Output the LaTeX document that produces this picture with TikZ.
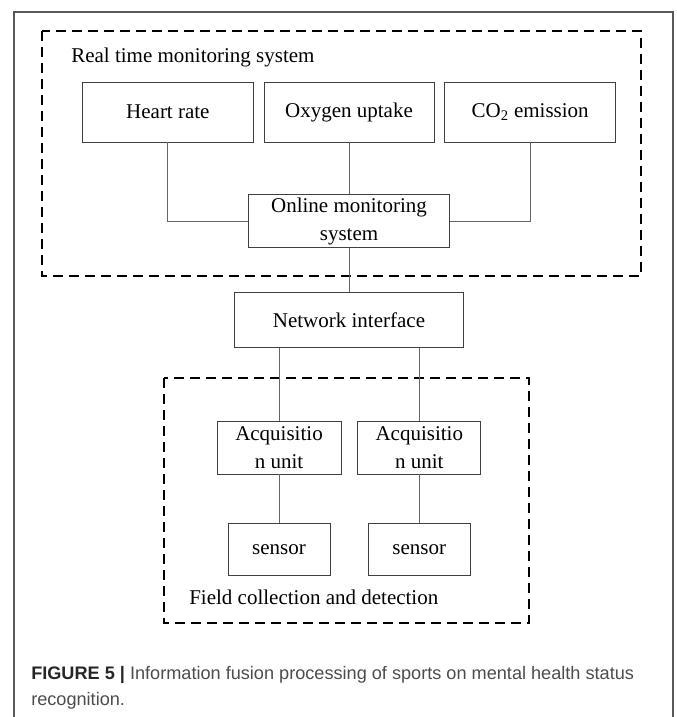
\documentclass[tikz,border=0pt]{standalone}
\usepackage{fontspec}
\setmainfont{Liberation Serif}
\newfontfamily\captionfont{Liberation Sans}
\usepackage{tikz}
\usetikzlibrary{positioning}

\begin{document}
\begin{tikzpicture}[x=0.75pt, y=-0.75pt,
        unit_box/.style = {
            rectangle,
            draw=black!75,
            line width=0.6pt,
            inner sep=0pt,
            align = center,
            font = \fontsize{15.75}{21}\selectfont
        },
        group_frame/.style = {
            draw=black,
            line width=1.5pt,
            dash pattern=on 7.5pt off 4.5pt
        },
        group_label/.style = {
            anchor=base west,
            inner sep=0pt,
            font = \fontsize{15.75}{21}\selectfont
        },
        link/.style = {
            draw=black!60,
            line width=0.6pt
        }  ]

        \useasboundingbox (0,0) rectangle (676,717);
        \draw[black!65, line width=1pt] (14,717) -- (14,12) -- (673,12) -- (673,717);

        \draw[group_frame] (42,31) rectangle (641,276);
        \node (rts_label) [group_label] at (71,63) {Real time monitoring system};

        \node (oxygen) [unit_box, minimum width=127.5pt, minimum height=45pt] at (349,112) {Oxygen uptake};
        \node (heart) [unit_box, minimum width=128pt, minimum height=45pt, left=7.5pt of oxygen] {Heart rate};
        \node (co2) [unit_box, minimum width=128pt, minimum height=45pt, right=7.5pt of oxygen] {CO\textsubscript{2} emission};

        \node (online) [unit_box, minimum width=150.75pt, minimum height=39.75pt, below=39pt of oxygen]
            {Online monitoring\\system};
        \node (network) [unit_box, minimum width=171.75pt, minimum height=41.25pt, below=33pt of online]
            {Network interface};

        \draw[group_frame] (164,378) rectangle (529,623);
        \node (field_label) [group_label] at (189,604) {Field collection and detection};

        \node (acq_left) [unit_box, minimum width=93pt, minimum height=39.75pt] at (279,447.5) {Acquisitio\\n unit};
        \node (acq_right) [unit_box, minimum width=92.25pt, minimum height=39.75pt, right=12pt of acq_left] {Acquisitio\\n unit};
        \node (sensor_left) [unit_box, minimum width=76.5pt, minimum height=39pt, below=36.75pt of acq_left] {sensor};
        \node (sensor_right) [unit_box, minimum width=76.5pt, minimum height=39pt, below=36.75pt of acq_right] {sensor};

        \node (caption_top) [anchor=base west, inner sep=0pt, font=\captionfont\fontsize{13.6}{19.5}\selectfont] at (31,679)
            {\textcolor{black!85}{\bfseries FIGURE 5 |} \textcolor{black!70}{Information fusion processing of sports on mental health status}};
        \node (caption_bottom) [anchor=base west, inner sep=0pt, font=\captionfont\fontsize{13.6}{19.5}\selectfont, text=black!70] at (31,705)
            {recognition.};

        \draw[link] (heart.south) |- (online.west);
        \draw[link] (oxygen) -- (online);
        \draw[link] (co2.south) |- (online.east);
        \draw[link] (online) -- (network);
        \draw[link] (acq_left.north) -- (acq_left.north |- network.south);
        \draw[link] (acq_right.north) -- (acq_right.north |- network.south);
        \draw[link] (acq_left) -- (sensor_left);
        \draw[link] (acq_right) -- (sensor_right);
    \end{tikzpicture}
\end{document}
